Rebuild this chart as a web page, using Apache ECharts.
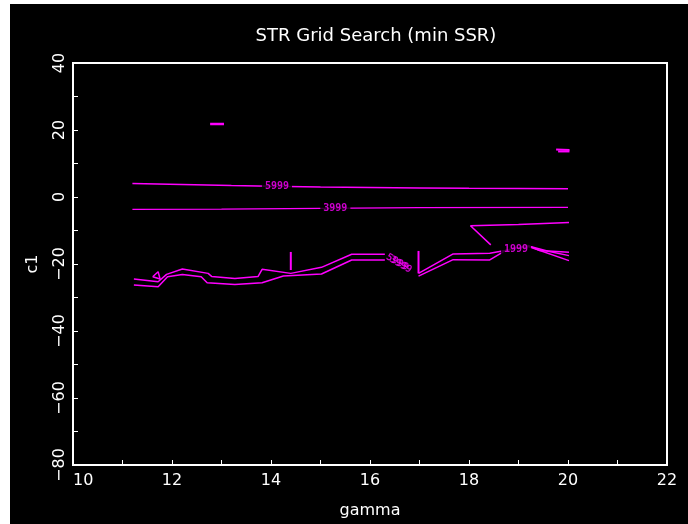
<!DOCTYPE html>
<html>
<head>
<meta charset="utf-8">
<script src="https://cdn.jsdelivr.net/npm/echarts@6/dist/echarts.min.js"></script>
<style>
html,body{margin:0;padding:0;background:#000;overflow:hidden;}
#lw{position:absolute;left:0;top:0;width:10px;height:524px;background:#fff;}
#tw{position:absolute;left:0;top:0;width:688px;height:4px;background:#fff;}
#chart{position:absolute;left:10px;top:4px;width:678px;height:520px;background:#000;}
</style>
</head>
<body>
<div id="lw"></div><div id="tw"></div>
<div id="chart"></div>
<script>
// x ticks and y ticks
var xTicks = [10, 12, 14, 16, 18, 20, 22];
var yTicks = [-80, -60, -40, -20, 0, 20, 40];

// contour level 5999 (upper)
var line5999 = [[11.2,4.0],[11.7,3.9],[13.2,3.4],[14.0,3.2],[15.0,3.0],[17.0,2.7],[18.0,2.6],[20.0,2.5]];
// contour level 3999 (upper)
var line3999 = [[11.2,-3.7],[13.0,-3.6],[15.0,-3.4],[17.0,-3.2],[20.0,-3.1]];
// lower contour A, left part
var lineA1 = [[11.23,-24.5],[11.72,-25.3],[11.89,-23.1],[12.21,-21.5],[12.73,-22.8],[12.80,-23.7],[13.27,-24.3],[13.74,-23.7],[13.82,-21.6],[14.40,-22.8],[15.02,-21.0],[15.63,-17.1],[16.30,-17.1]];
// lower contour A, right part
var lineA2 = [[16.98,-22.8],[17.68,-17.0],[18.42,-16.8],[18.73,-16.0],[19.20,-14.5],[19.43,-16.0],[20.02,-16.5]];
// lower contour B, left part
var lineB1 = [[11.23,-26.3],[11.72,-26.8],[11.91,-23.8],[12.21,-23.1],[12.59,-23.8],[12.71,-25.6],[13.27,-26.1],[13.82,-25.6],[14.25,-23.6],[15.02,-23.0],[15.63,-18.8],[16.30,-18.8]];
// lower contour B, right part
var lineB2 = [[16.98,-23.6],[17.68,-18.7],[18.42,-18.8],[18.76,-15.8],[19.20,-14.8],[20.02,-19.0]];
// extra branch on right
var lineR = [[19.20,-14.6],[19.6,-16.2],[20.02,-17.5]];
// top right contour with diagonal
var lineC = [[18.44,-14.3],[18.03,-8.6],[19.0,-8.2],[20.02,-7.6]];
// short vertical strokes
var vert1 = [[14.40,-16.4],[14.40,-21.8]];
var vert2 = [[16.98,-16.1],[16.98,-22.8]];
// small triangle
var tri = [[11.61,-23.8],[11.72,-22.3],[11.76,-24.5],[11.61,-23.8]];
// small fragments
var frag1 = [[12.77,21.8],[13.05,21.8]];
var frag2 = [[19.76,14.2],[20.03,14.0]];
var frag3 = [[19.80,13.6],[20.03,13.6]];
// contour labels [gamma, c1, text]
var labels = [[14.12,3.1,'5999'],[15.30,-3.5,'3999'],[18.95,-15.5,'1999']];
var labelsRot = [[16.62,-20.2,'3999'],[16.55,-19.5,'5999']];

var MAG = '#ff00ff';
function lineSeries(d, w){
  return {type:'line', data:d, showSymbol:false, symbol:'none', silent:true, animation:false,
    lineStyle:{color:MAG, width:w||1.5}, z:2};
}
var series = [
  lineSeries(line5999), lineSeries(line3999, 1.2),
  lineSeries(lineA1), lineSeries(lineA2), lineSeries(lineB1), lineSeries(lineB2),
  lineSeries(lineR), lineSeries(lineC), lineSeries(vert1, 2), lineSeries(vert2, 2),
  lineSeries(tri), lineSeries(frag1, 2.5), lineSeries(frag2, 2), lineSeries(frag3, 2),
  {type:'scatter', data:labels, symbolSize:0, animation:false, z:5,
    label:{show:true, position:'inside', formatter:function(p){return p.value[2];},
      color:MAG, fontSize:10, fontWeight:'bold', fontFamily:'DejaVu Sans Mono',
      backgroundColor:'#000', padding:[0,3]}},
  {type:'scatter', data:labelsRot, symbolSize:0, animation:false, z:5,
    label:{show:true, position:'inside', rotate:-30, formatter:function(p){return p.value[2];},
      color:MAG, fontSize:10, fontWeight:'bold', fontFamily:'DejaVu Sans Mono'}}
];

function minusFmt(v){ return String(v).replace('-', '\u2212'); }

var chart = echarts.init(document.getElementById('chart'), null, {renderer:'canvas'});
var font = 'DejaVu Sans';
chart.setOption({
  backgroundColor:'#000',
  animation:false,
  title:{text:'STR Grid Search (min SSR)', left:361, top:18, textAlign:'center',
    textStyle:{color:'#fff', fontSize:18, fontWeight:'normal', fontFamily:font}},
  grid:{left:63, right:21, top:59, bottom:59, show:true, borderColor:'#fff', borderWidth:2, backgroundColor:'transparent'},
  xAxis:{type:'value', min:xTicks[0], max:xTicks[xTicks.length-1], interval:2,
    name:'gamma', nameLocation:'middle', nameGap:38,
    nameTextStyle:{color:'#fff', fontSize:16, fontFamily:font},
    axisLine:{show:true, onZero:false, lineStyle:{color:'#fff', width:2}},
    axisTick:{show:true, inside:true, length:5, lineStyle:{color:'#fff'}},
    minorTick:{show:true, splitNumber:2, length:5, lineStyle:{color:'#fff'}},
    splitLine:{show:false},
    axisLabel:{color:'#fff', fontSize:16, fontFamily:font, margin:8, alignMinLabel:'left', formatter:minusFmt}},
  yAxis:{type:'value', min:yTicks[0], max:yTicks[yTicks.length-1], interval:20,
    name:'c1', nameLocation:'middle', nameGap:32, nameRotate:90,
    nameTextStyle:{color:'#fff', fontSize:16, fontFamily:font},
    axisLine:{show:true, onZero:false, lineStyle:{color:'#fff', width:2}},
    axisTick:{show:true, inside:true, length:5, lineStyle:{color:'#fff'}},
    minorTick:{show:true, splitNumber:2, length:5, lineStyle:{color:'#fff'}},
    splitLine:{show:false},
    axisLabel:{color:'#fff', fontSize:16, fontFamily:font, rotate:90, margin:5, formatter:minusFmt}},
  series:series
});
</script>
</body>
</html>
